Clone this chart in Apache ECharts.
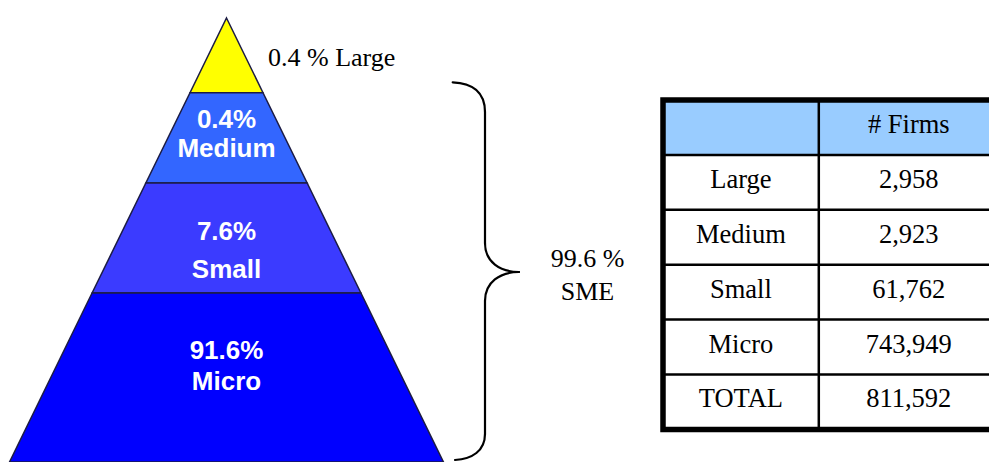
<!DOCTYPE html>
<html>
<head>
<meta charset="utf-8">
<script src="https://cdn.jsdelivr.net/npm/echarts@6/dist/echarts.min.js"></script>
<style>
html,body{margin:0;padding:0;background:#ffffff;}
#chart{width:989px;height:462px;}
</style>
</head>
<body>
<div id="chart"></div>
<script>
// ---------- data ----------
const categories = ['Large', 'Medium', 'Small', 'Micro'];
const sharePct = [0.4, 0.4, 7.6, 91.6];
const firms = [2958, 2923, 61762, 743949];
const totalLabel = 'TOTAL';
const totalFirms = 811592;
const smeShare = 99.6;
const smeLabel = 'SME';
const tableHeader = ['', '# Firms'];

// ---------- layout / style (not data) ----------
const layerColors = ['#FFFF00', '#3366FF', '#3B3BFF', '#0000FF'];
const layerBottomDepth = [76, 168, 280, 452];      // schematic pyramid band edges (px depth from apex)
const labelDepth = [40, 117.5, 236, 354];
const labelLineHeight = [0, 29.5, 37.5, 31];
const slope = 0.48;
const serif = '"Liberation Serif", "Times New Roman", serif';
const sans = '"Liberation Sans", Arial, sans-serif';

const chart = echarts.init(document.getElementById('chart'), null, {renderer: 'svg'});

const pyramidData = categories.map((c, i) => ({name: c, value: [i, sharePct[i]]}));

function renderLayer(params, api) {
  const i = params.dataIndex;
  const d0 = i === 0 ? 0 : layerBottomDepth[i - 1];
  const d1 = layerBottomDepth[i];
  const pts = [[-slope * d0, d0], [slope * d0, d0], [slope * d1, d1], [-slope * d1, d1]].map(p => api.coord(p));
  const share = api.value(1);
  const name = categories[i];
  const children = [{
    type: 'polygon',
    shape: {points: pts},
    style: {fill: layerColors[i], stroke: '#1c1c44', lineWidth: 1.5, lineJoin: 'miter'}
  }];
  if (i === 0) {
    const p = api.coord([41.5, labelDepth[i]]);
    children.push({
      type: 'text',
      x: p[0], y: p[1],
      style: {text: share + ' % ' + name, fill: '#000', font: '26px ' + serif, align: 'left', verticalAlign: 'middle'}
    });
  } else {
    const p = api.coord([0, labelDepth[i]]);
    children.push({
      type: 'text',
      x: p[0], y: p[1],
      style: {text: share + '%\n' + name, fill: '#fff', font: 'bold 26px ' + sans, align: 'center', verticalAlign: 'middle', lineHeight: labelLineHeight[i]}
    });
  }
  return {type: 'group', children: children};
}

// ---------- table ----------
const rowLabels = categories.concat([totalLabel]);
const rowValues = firms.concat([totalFirms]).map(v => v.toLocaleString('en-US'));
const tX = 663, tY = 100, rowH = 54.9, col1X = 818.8, col2W = 180, textDy = -3.5;
const nRows = rowLabels.length + 1;
const tableGraphics = [];
tableGraphics.push({type: 'rect', shape: {x: tX, y: tY, width: 345, height: rowH}, style: {fill: '#99CCFF'}});
for (let r = 1; r < nRows; r++) {
  tableGraphics.push({type: 'line', shape: {x1: tX, y1: tY + r * rowH, x2: 1010, y2: tY + r * rowH}, style: {stroke: '#000', lineWidth: 2.5}});
}
tableGraphics.push({type: 'line', shape: {x1: col1X, y1: tY, x2: col1X, y2: tY + nRows * rowH}, style: {stroke: '#000', lineWidth: 2.5}});
tableGraphics.push({type: 'rect', shape: {x: tX, y: tY, width: 360, height: nRows * rowH}, style: {fill: 'none', stroke: '#000', lineWidth: 5.5}});
const c1 = (tX + col1X) / 2, c2 = col1X + col2W / 2;
const tFont = '26.5px ' + serif;
tableGraphics.push({type: 'text', x: c2, y: tY + rowH / 2 + textDy, style: {text: tableHeader[1], font: tFont, fill: '#000', align: 'center', verticalAlign: 'middle'}});
rowLabels.forEach((lab, r) => {
  const cy = tY + (r + 1.5) * rowH + textDy;
  tableGraphics.push({type: 'text', x: c1, y: cy, style: {text: lab, font: tFont, fill: '#000', align: 'center', verticalAlign: 'middle'}});
  tableGraphics.push({type: 'text', x: c2, y: cy, style: {text: rowValues[r], font: tFont, fill: '#000', align: 'center', verticalAlign: 'middle'}});
});

// ---------- brace + SME text ----------
const braceStyle = {fill: 'none', stroke: '#000', lineWidth: 2.2, lineCap: 'round'};
const braceGraphics = [
  {type: 'bezierCurve', shape: {x1: 452.7, y1: 82.3, cpx1: 472, cpy1: 83, cpx2: 485, cpy2: 92, x2: 485, y2: 112}, style: braceStyle},
  {type: 'line', shape: {x1: 485, y1: 112, x2: 485, y2: 243}, style: braceStyle},
  {type: 'bezierCurve', shape: {x1: 485, y1: 243, cpx1: 485, cpy1: 262, cpx2: 500, cpy2: 272, x2: 519, y2: 272}, style: braceStyle},
  {type: 'bezierCurve', shape: {x1: 519, y1: 272, cpx1: 500, cpy1: 272, cpx2: 485, cpy2: 282, x2: 485, y2: 301}, style: braceStyle},
  {type: 'line', shape: {x1: 485, y1: 301, x2: 485, y2: 434}, style: braceStyle},
  {type: 'bezierCurve', shape: {x1: 485, y1: 434, cpx1: 485, cpy1: 451, cpx2: 472, cpy2: 459, x2: 455, y2: 460}, style: braceStyle},
  {type: 'text', x: 587.5, y: 258.5, style: {text: smeShare + ' %', font: '26px ' + serif, fill: '#000', align: 'center', verticalAlign: 'middle'}},
  {type: 'text', x: 587.5, y: 291.5, style: {text: smeLabel, font: '26px ' + serif, fill: '#000', align: 'center', verticalAlign: 'middle'}}
];

chart.setOption({
  backgroundColor: '#ffffff',
  animation: false,
  grid: {left: 0, top: 18, width: 453, height: 452},
  xAxis: {type: 'value', min: -226.5, max: 226.5, show: false},
  yAxis: {type: 'value', min: 0, max: 452, inverse: true, show: false},
  series: [{
    type: 'custom',
    coordinateSystem: 'cartesian2d',
    renderItem: renderLayer,
    data: pyramidData,
    clip: false
  }],
  graphic: braceGraphics.concat(tableGraphics)
});
</script>
</body>
</html>
